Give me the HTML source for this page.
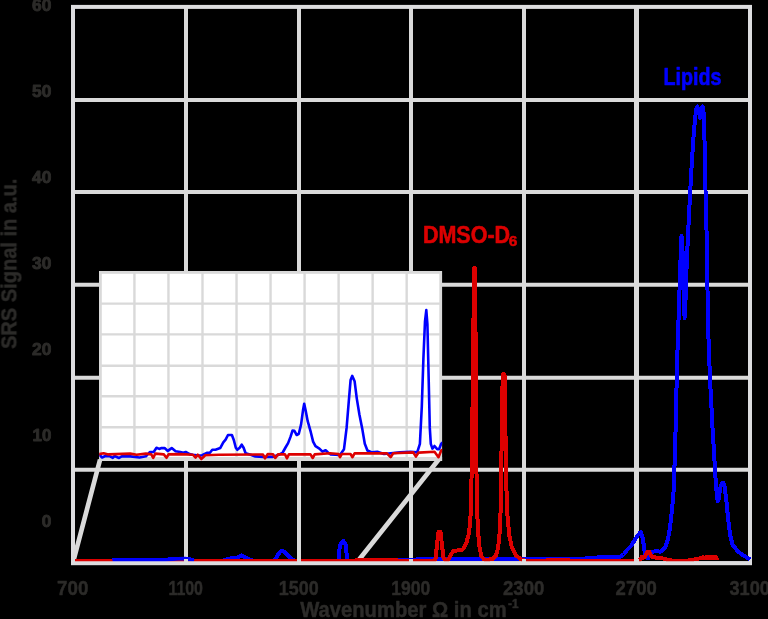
<!DOCTYPE html>
<html><head><meta charset="utf-8"><title>SRS spectrum</title>
<style>
html,body{margin:0;padding:0;background:#000;width:768px;height:619px;overflow:hidden;font-family:"Liberation Sans",sans-serif;}
svg{display:block;position:absolute;left:0;top:0}
</style></head><body>
<svg width="768" height="619" viewBox="0 0 768 619">
<rect width="768" height="619" fill="#000"/>
<path d="M186,6.9 V563.2 M299,6.9 V563.2 M411,6.9 V563.2 M524,6.9 V563.2 M73,100 H750 M73,191.9 H750 M73,284.8 H750 M73,377.8 H750 M73,469.8 H750" stroke="#dadada" stroke-width="4" fill="none"/>
<path d="M636.5,6.9 V563.2" stroke="#dadada" stroke-width="5" fill="none"/>
<rect x="73" y="6.9" width="677" height="556.3000000000001" stroke="#dddddf" stroke-width="4" fill="none"/>
<path d="M100.1,459.5 L73.4,561 M438.7,459.5 L358.8,560" stroke="#dadada" stroke-width="4.7" fill="none"/>
<path d="M78.0,561.6 L110.0,561.6 L113.0,560.2 L125.0,560.0 L140.0,560.3 L160.0,560.3 L165.0,560.0 L170.0,559.3 L178.0,558.7 L185.0,558.5 L190.0,559.3 L194.0,560.5 L200.0,561.2 L222.0,561.2 L225.5,559.6 L232.2,558.0 L236.0,558.0 L241.6,555.4 L246.0,557.5 L251.0,560.0 L255.0,561.2 L272.0,561.2 L275.0,560.0 L278.0,554.5 L280.5,551.5 L282.2,550.7 L284.0,551.5 L288.0,555.5 L292.0,559.0 L295.0,561.2 L334.0,561.2 L337.5,561.0 L339.2,559.0 L339.5,549.0 L340.6,543.8 L343.1,540.8 L345.4,543.8 L346.4,549.0 L346.7,559.0 L348.3,561.0 L350.0,561.2 L380.0,561.0 L400.0,560.0 L420.0,559.4 L560.0,559.3 L575.0,559.2 L580.0,558.9 L600.0,557.3 L610.0,557.0 L620.4,556.6 L623.5,554.5 L626.7,550.5 L630.8,546.3 L635.0,539.6 L638.1,534.8 L640.7,532.1 L642.3,536.0 L643.6,544.0 L644.6,551.0 L646.0,556.5 L648.0,558.5 L650.0,554.5 L652.0,551.8 L656.0,551.3 L660.0,551.6 L661.5,551.3 L665.3,547.4 L667.9,539.6 L669.7,529.3 L671.3,516.4 L672.6,503.4 L673.6,490.5 L674.4,469.8 L674.9,451.7 L675.7,425.9 L676.2,400.0 L676.8,377.0 L677.5,350.0 L678.5,320.0 L679.5,290.0 L680.5,260.0 L681.5,236.0 L682.5,250.0 L683.5,290.0 L684.6,318.0 L685.5,300.0 L686.5,270.0 L688.0,235.0 L690.0,195.0 L692.0,160.0 L694.0,130.0 L696.0,110.0 L697.3,106.5 L698.6,110.0 L700.0,118.0 L701.3,110.0 L702.6,106.5 L703.5,112.0 L704.5,140.0 L705.5,190.0 L706.5,230.0 L707.5,290.0 L708.2,330.0 L709.9,377.0 L711.1,400.0 L712.4,425.9 L714.0,451.7 L715.0,469.8 L716.0,485.3 L717.0,496.0 L717.8,501.4 L718.8,499.0 L720.2,488.0 L721.8,483.5 L723.0,482.7 L724.4,485.0 L726.1,498.3 L727.9,516.4 L730.0,534.5 L732.6,544.8 L737.8,551.3 L742.9,555.2 L748.7,558.5" shape-rendering="crispEdges" stroke="#0000ff" stroke-width="4" fill="none" stroke-linejoin="round" stroke-linecap="round"/>
<path d="M74.8,561.3 L355.0,561.3 L357.0,559.7 L385.0,559.7 L410.0,561.2 L433.5,561.2 L435.5,559.0 L437.0,545.0 L438.5,532.0 L439.5,531.0 L440.5,532.0 L442.0,545.0 L443.5,558.0 L445.5,560.0 L448.3,560.0 L450.5,555.5 L453.0,551.3 L457.0,550.5 L461.0,550.3 L463.8,548.4 L466.2,543.6 L468.5,535.0 L470.2,523.0 L471.0,505.0 L471.5,480.0 L472.2,429.0 L472.9,380.0 L473.4,330.0 L473.8,290.0 L473.9,268.0 L475.1,268.0 L475.2,290.0 L475.5,330.0 L475.9,380.0 L476.2,429.0 L476.6,487.0 L477.3,515.0 L478.2,533.0 L479.6,548.0 L481.5,556.5 L484.5,559.8 L488.0,559.8 L492.8,558.9 L496.0,555.5 L498.0,548.0 L499.3,537.0 L500.2,523.0 L500.9,500.0 L501.6,443.7 L502.1,400.0 L502.9,374.0 L504.5,374.0 L505.1,400.0 L505.6,443.7 L506.4,487.3 L507.4,515.0 L509.2,535.0 L512.0,548.0 L516.0,555.5 L521.0,559.3 L526.0,561.2 L545.0,561.2 L548.0,559.8 L552.0,560.5 L556.0,559.5 L560.0,560.3 L565.0,559.6 L570.0,560.5 L574.0,561.2 L638.0,561.2 L640.5,559.5 L642.3,556.4 L644.0,558.3 L645.5,556.0 L647.0,552.5 L648.5,551.2 L650.0,553.0 L651.7,557.0 L653.0,557.5 L654.3,556.2 L656.0,558.0 L664.0,558.6 L668.3,560.0 L676.7,561.2 L688.0,560.6 L693.8,559.5 L698.0,558.8 L701.2,558.0 L703.0,557.0 L705.0,558.6 L707.0,556.8 L709.0,558.6 L711.0,556.8 L713.0,558.5 L715.0,556.8 L717.0,558.3 L718.4,557.5" shape-rendering="crispEdges" stroke="#dd0000" stroke-width="4" fill="none" stroke-linejoin="miter" stroke-miterlimit="1" stroke-linecap="butt"/>
<path d="M112.5,560.6 L114.0,560.3 L125.0,560.1 L140.0,560.4 L160.0,560.4 L165.0,560.1 L170.0,559.4 L178.0,558.8 L185.0,558.6 L190.0,559.4 L194.0,560.6" stroke="#0000ff" stroke-width="3.6" fill="none" stroke-linejoin="round" stroke-linecap="butt"/>
<path d="M186,563.2 V558.9000000000001 M299,563.2 V558.9000000000001 M411,563.2 V558.9000000000001 M524,563.2 V558.9000000000001" stroke="#dadada" stroke-width="4" fill="none"/>
<path d="M636.5,563.2 V558.9000000000001" stroke="#dadada" stroke-width="5" fill="none"/>
<path d="M71,563.2 H752" stroke="#dddddf" stroke-width="3.8" fill="none"/>
<rect x="100.4" y="272.4" width="340.29999999999995" height="187.10000000000002" fill="#fff"/>
<path d="M134.43,272.4 V459.5 M168.46,272.4 V459.5 M202.49,272.4 V459.5 M236.52,272.4 V459.5 M270.55,272.4 V459.5 M304.58,272.4 V459.5 M338.61,272.4 V459.5 M372.64,272.4 V459.5 M406.67,272.4 V459.5 M100.4,303.60 H440.7 M100.4,334.40 H440.7 M100.4,365.70 H440.7 M100.4,396.30 H440.7 M100.4,427.20 H440.7" stroke="#d9d9d9" stroke-width="2.4" fill="none"/>
<rect x="100.4" y="272.4" width="340.29999999999995" height="187.10000000000002" fill="none" stroke="#d9d9d9" stroke-width="2.8"/>
<path d="M99,459 H442.1" stroke="#d9d9d9" stroke-width="3.8" fill="none"/>
<clipPath id="ic"><rect x="99.2" y="271" width="343" height="190"/></clipPath>
<g clip-path="url(#ic)"><path d="M99.8,455.2 L102.1,457.5 L105.3,456.0 L110.0,456.3 L112.8,457.8 L114.6,456.0 L119.0,458.0 L121.7,456.3 L130.3,456.4 L139.6,457.5 L145.9,456.3 L149.8,452.0 L153.7,452.0 L156.5,447.8 L159.2,448.9 L161.5,448.1 L164.6,448.1 L167.8,450.9 L171.7,448.1 L175.6,451.3 L180.3,452.0 L183.4,452.8 L185.7,452.0 L189.6,454.1 L192.8,454.7 L199.0,455.6 L202.1,455.2 L206.8,452.8 L209.9,452.8 L212.3,449.7 L215.5,449.7 L220.2,448.1 L223.3,442.3 L225.6,439.7 L228.0,435.0 L231.9,435.0 L233.8,440.0 L235.8,447.8 L237.3,449.8 L239.7,447.8 L241.7,444.7 L243.6,447.8 L245.6,453.3 L250.6,454.8 L255.3,456.4 L263.1,456.9 L272.5,456.9 L278.8,454.8 L282.7,452.5 L285.8,447.0 L288.1,443.1 L290.5,436.9 L292.5,430.6 L294.4,430.9 L296.7,435.0 L298.8,433.8 L301.1,424.4 L303.0,410.3 L304.2,403.8 L305.6,410.3 L307.7,421.2 L310.8,432.2 L313.1,441.6 L315.5,446.2 L319.4,448.6 L322.5,451.7 L325.6,450.2 L328.0,452.5 L330.7,454.5 L340.0,455.0 L344.0,449.2 L346.6,427.9 L348.8,401.2 L350.6,379.9 L352.2,375.9 L354.6,381.2 L356.8,398.6 L359.4,414.5 L362.1,427.9 L364.8,443.8 L367.4,450.5 L372.0,452.4 L377.3,451.8 L384.0,454.0 L400.0,452.4 L410.6,451.8 L417.2,452.4 L419.9,443.8 L421.8,406.6 L423.4,358.6 L425.0,321.3 L426.3,310.1 L427.4,324.0 L428.7,379.9 L429.8,427.9 L430.8,443.8 L432.4,448.6 L434.5,446.0 L437.2,449.2 L439.0,449.2 L441.2,443.8 L442.0,443.0" stroke="#0000ff" stroke-width="2.6" fill="none" stroke-linejoin="round" stroke-linecap="round"/>
<path d="M99.0,454.1 L103.7,453.3 L108.4,454.4 L130.3,453.6 L136.5,454.7 L145.9,453.6 L151.3,454.4 L153.2,457.8 L155.3,453.6 L163.8,454.4 L166.5,457.8 L168.5,454.4 L180.3,454.1 L192.8,454.7 L195.6,457.5 L197.8,454.7 L201.3,459.0 L205.3,455.2 L219.0,454.7 L263.0,454.5 L265.0,458.4 L267.8,454.0 L273.0,454.3 L275.3,458.0 L278.0,454.4 L285.0,454.4 L287.0,458.3 L288.9,454.4 L310.5,454.4 L312.7,458.0 L314.7,454.4 L330.0,453.3 L338.6,454.0 L340.0,457.2 L341.8,454.0 L350.5,454.0 L352.5,457.2 L354.6,453.4 L386.6,453.2 L390.6,457.2 L393.2,453.2 L413.2,452.4 L415.9,456.6 L418.6,452.6 L434.5,451.8 L438.5,457.2 L441.2,450.5 L442.0,450.0" stroke="#dd0000" stroke-width="2.6" fill="none" stroke-linejoin="round" stroke-linecap="round"/></g>
<g opacity="0.999">
<text x="51.3" y="11.3" font-family="Liberation Sans, sans-serif" font-weight="bold" stroke-linejoin="round" font-size="16.6" fill="#2d2c2a" stroke="#2d2c2a" stroke-width="0.9" text-anchor="end" textLength="19.3" lengthAdjust="spacingAndGlyphs">60</text>
<text x="51.3" y="97.4" font-family="Liberation Sans, sans-serif" font-weight="bold" stroke-linejoin="round" font-size="16.6" fill="#2d2c2a" stroke="#2d2c2a" stroke-width="0.9" text-anchor="end" textLength="19.3" lengthAdjust="spacingAndGlyphs">50</text>
<text x="51.3" y="183.3" font-family="Liberation Sans, sans-serif" font-weight="bold" stroke-linejoin="round" font-size="16.6" fill="#2d2c2a" stroke="#2d2c2a" stroke-width="0.9" text-anchor="end" textLength="19.3" lengthAdjust="spacingAndGlyphs">40</text>
<text x="51.3" y="269.3" font-family="Liberation Sans, sans-serif" font-weight="bold" stroke-linejoin="round" font-size="16.6" fill="#2d2c2a" stroke="#2d2c2a" stroke-width="0.9" text-anchor="end" textLength="19.3" lengthAdjust="spacingAndGlyphs">30</text>
<text x="51.3" y="355.2" font-family="Liberation Sans, sans-serif" font-weight="bold" stroke-linejoin="round" font-size="16.6" fill="#2d2c2a" stroke="#2d2c2a" stroke-width="0.9" text-anchor="end" textLength="19.3" lengthAdjust="spacingAndGlyphs">20</text>
<text x="51.3" y="441.1" font-family="Liberation Sans, sans-serif" font-weight="bold" stroke-linejoin="round" font-size="16.6" fill="#2d2c2a" stroke="#2d2c2a" stroke-width="0.9" text-anchor="end" textLength="18.8" lengthAdjust="spacingAndGlyphs">10</text>
<text x="51.3" y="527.0" font-family="Liberation Sans, sans-serif" font-weight="bold" stroke-linejoin="round" font-size="16.6" fill="#2d2c2a" stroke="#2d2c2a" stroke-width="0.9" text-anchor="end" textLength="9.6" lengthAdjust="spacingAndGlyphs">0</text>
<text x="72.7" y="595.4" font-family="Liberation Sans, sans-serif" font-weight="bold" stroke-linejoin="round" font-size="20.2" fill="#2d2c2a" stroke="#2d2c2a" stroke-width="0.5" text-anchor="middle" textLength="31.3" lengthAdjust="spacingAndGlyphs">700</text>
<text x="185.7" y="595.4" font-family="Liberation Sans, sans-serif" font-weight="bold" stroke-linejoin="round" font-size="20.2" fill="#2d2c2a" stroke="#2d2c2a" stroke-width="0.5" text-anchor="middle" textLength="34.6" lengthAdjust="spacingAndGlyphs">1100</text>
<text x="298.7" y="595.4" font-family="Liberation Sans, sans-serif" font-weight="bold" stroke-linejoin="round" font-size="20.2" fill="#2d2c2a" stroke="#2d2c2a" stroke-width="0.5" text-anchor="middle" textLength="39.8" lengthAdjust="spacingAndGlyphs">1500</text>
<text x="410.7" y="595.4" font-family="Liberation Sans, sans-serif" font-weight="bold" stroke-linejoin="round" font-size="20.2" fill="#2d2c2a" stroke="#2d2c2a" stroke-width="0.5" text-anchor="middle" textLength="39.1" lengthAdjust="spacingAndGlyphs">1900</text>
<text x="523.7" y="595.4" font-family="Liberation Sans, sans-serif" font-weight="bold" stroke-linejoin="round" font-size="20.2" fill="#2d2c2a" stroke="#2d2c2a" stroke-width="0.5" text-anchor="middle" textLength="41.4" lengthAdjust="spacingAndGlyphs">2300</text>
<text x="636.2" y="595.4" font-family="Liberation Sans, sans-serif" font-weight="bold" stroke-linejoin="round" font-size="20.2" fill="#2d2c2a" stroke="#2d2c2a" stroke-width="0.5" text-anchor="middle" textLength="41.2" lengthAdjust="spacingAndGlyphs">2700</text>
<text x="749.7" y="595.4" font-family="Liberation Sans, sans-serif" font-weight="bold" stroke-linejoin="round" font-size="20.2" fill="#2d2c2a" stroke="#2d2c2a" stroke-width="0.5" text-anchor="middle" textLength="40.5" lengthAdjust="spacingAndGlyphs">3100</text>
<text x="300.2" y="617.3" font-family="Liberation Sans, sans-serif" font-weight="bold" stroke-linejoin="round" font-size="21.5" fill="#2d2c2a" stroke="#2d2c2a" stroke-width="0.5" textLength="206.5" lengthAdjust="spacingAndGlyphs">Wavenumber Ω in cm</text>
<text x="508" y="607.5" font-family="Liberation Sans, sans-serif" font-weight="bold" stroke-linejoin="round" font-size="12" fill="#2d2c2a" stroke="#2d2c2a" stroke-width="0.5" textLength="10.5" lengthAdjust="spacingAndGlyphs">-1</text>
<text transform="translate(16.4,348.9) rotate(-90)" font-family="Liberation Sans, sans-serif" font-weight="bold" stroke-linejoin="round" font-size="22" fill="#2d2c2a" stroke="#2d2c2a" stroke-width="0.5" textLength="170.3" lengthAdjust="spacingAndGlyphs">SRS Signal in a.u.</text>
<text x="663.5" y="84.7" font-family="Liberation Sans, sans-serif" font-weight="bold" stroke-linejoin="round" font-size="24" fill="#0000ff" stroke="#0000ff" stroke-width="0.7" textLength="57.9" lengthAdjust="spacingAndGlyphs">Lipids</text>
<text x="422.9" y="243" font-family="Liberation Sans, sans-serif" font-weight="bold" stroke-linejoin="round" font-size="23" fill="#dd0000" stroke="#dd0000" stroke-width="0.6" textLength="87.2" lengthAdjust="spacingAndGlyphs">DMSO-D</text>
<text x="508.8" y="246.2" font-family="Liberation Sans, sans-serif" font-weight="bold" stroke-linejoin="round" font-size="14.2" fill="#dd0000" stroke="#dd0000" stroke-width="0.5" textLength="8.6" lengthAdjust="spacingAndGlyphs">6</text>
</g>
</svg>
</body></html>
